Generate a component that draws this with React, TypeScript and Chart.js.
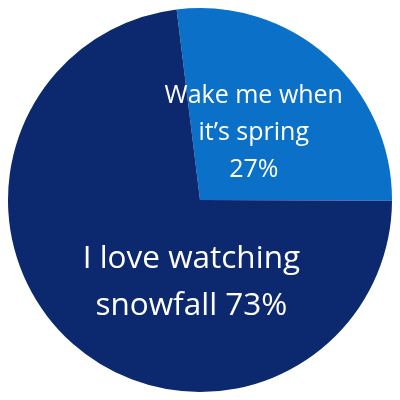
import { useRef, useEffect } from 'react';
import Chart from 'chart.js/auto';

// ── Data ──

const categories = ['Wake me when it’s spring', 'I love watching snowfall'];
const shares = [27, 73];
const sliceColors = ['#0a70c8', '#0c286e'];

// label lines drawn inside each slice
const labelLines = [
  ['Wake me when', 'it’s spring', '27%'],
  ['I love watching', 'snowfall 73%'],
];

// ── Slice labels plugin ──

const sliceLabels = {
  id: 'sliceLabels',
  afterDatasetsDraw(chart: Chart) {
    const { ctx } = chart;
    const arcs = chart.getDatasetMeta(0).data as any[];
    if (!arcs.length) return;
    const { x: cx, y: cy, outerRadius: r } = arcs[0];

    // offsets (relative to radius) and font sizes per slice
    const layout = [
      { dx: 0.28, dy: -0.35, size: 25, lh: 37 },
      { dx: -0.045, dy: 0.43, size: 31.5, lh: 47 },
    ];

    ctx.save();
    ctx.fillStyle = '#ffffff';
    ctx.textAlign = 'center';
    ctx.textBaseline = 'middle';
    labelLines.forEach((lines, i) => {
      const l = layout[i];
      ctx.font = `${l.size}px "Open Sans", sans-serif`;
      const x = cx + l.dx * r;
      const y0 = cy + l.dy * r - ((lines.length - 1) * l.lh) / 2;
      lines.forEach((line, j) => ctx.fillText(line, x, y0 + j * l.lh));
    });
    ctx.restore();
  },
};

// ── Pie Chart ──

export default function App() {
  const canvasRef = useRef<HTMLCanvasElement>(null);
  const chartRef = useRef<Chart | null>(null);

  useEffect(() => {
    document.body.style.margin = '0';
    if (!canvasRef.current) return;

    if (chartRef.current) {
      chartRef.current.destroy();
    }

    chartRef.current = new Chart(canvasRef.current, {
      type: 'pie',
      data: {
        labels: categories,
        datasets: [{
          data: shares,
          backgroundColor: sliceColors,
          borderWidth: 0,
        }],
      },
      options: {
        animation: false,
        responsive: false,
        rotation: -7,
        layout: { padding: 8 },
        plugins: {
          legend: { display: false },
          tooltip: { enabled: false },
        },
      },
      plugins: [sliceLabels],
    });

    return () => {
      if (chartRef.current) {
        chartRef.current.destroy();
      }
    };
  }, []);

  return (
    <div style={{ width: 400, height: 400, background: '#ffffff' }}>
      <canvas ref={canvasRef} width={400} height={400} />
    </div>
  );
}
